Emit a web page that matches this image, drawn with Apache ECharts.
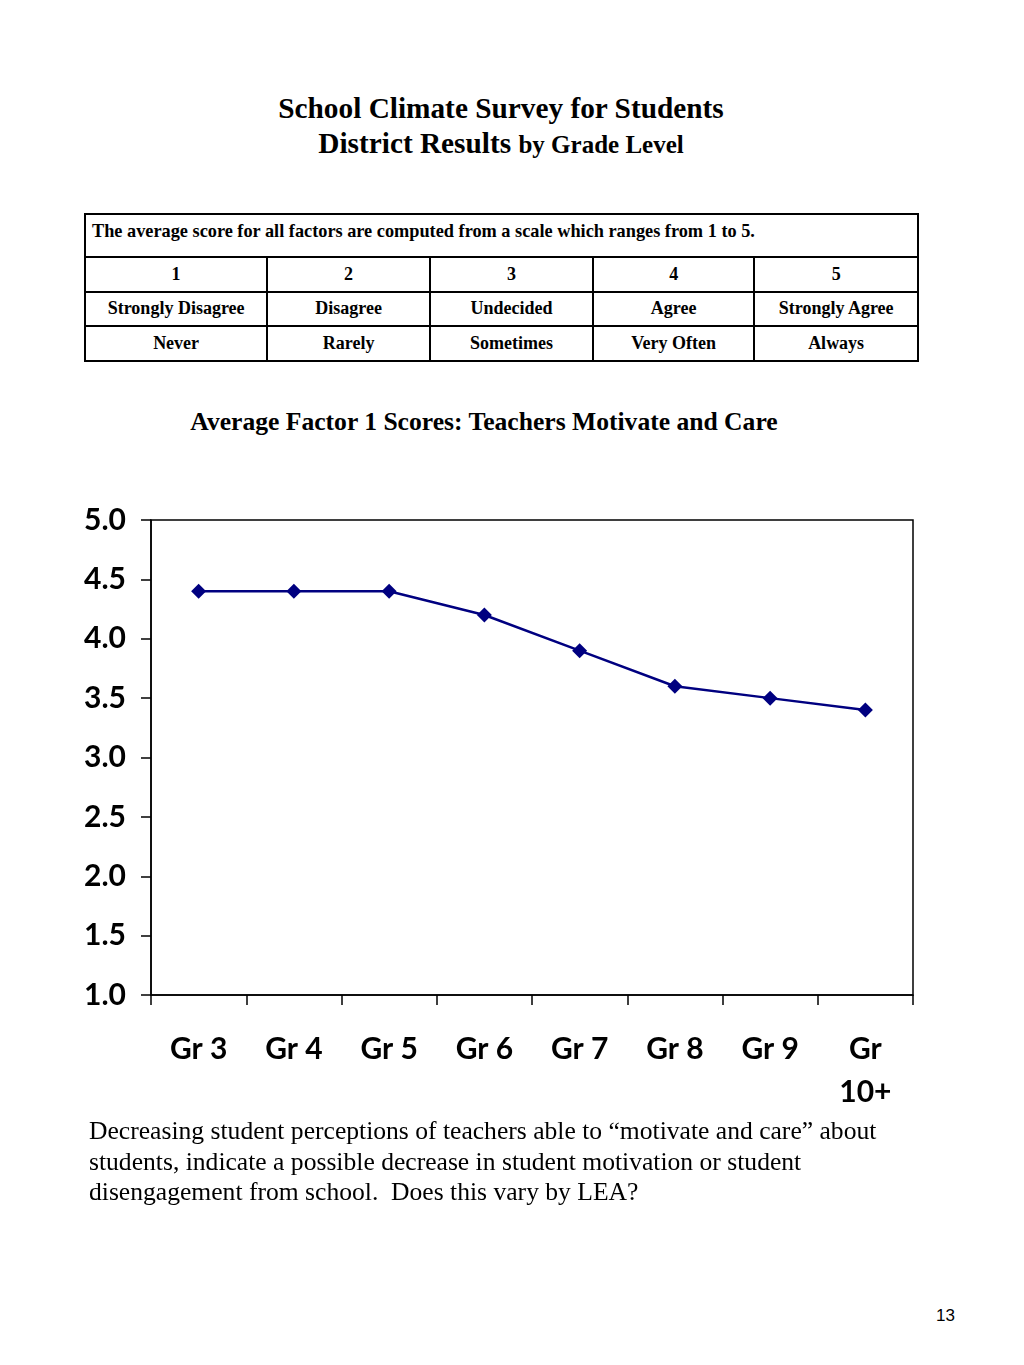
<!DOCTYPE html>
<html>
<head>
<meta charset="utf-8">
<script src="https://cdn.jsdelivr.net/npm/echarts@6/dist/echarts.min.js"></script>
<style>
  html, body { margin:0; padding:0; background:#fff; }
  body { width:1024px; height:1365px; position:relative; overflow:hidden; font-family:"Liberation Serif","DejaVu Serif",serif; color:#000; }
  .title { position:absolute; left:0; width:1002px; text-align:center; font-weight:bold; }
  #t1 { top:90px; font-size:29.3px; line-height:36px; }
  #t2 { top:125px; font-size:29.3px; line-height:36px; }
  #t2 span { font-size:25px; }
  table { position:absolute; left:84px; top:213px; width:835px; border-collapse:collapse; font-weight:bold; font-size:18px; }
  td { border:2.5px solid #000; text-align:center; padding:0; }
  td.head { text-align:left; padding-left:6px; height:43px; vertical-align:top; padding-top:6px; box-sizing:border-box; font-size:18.3px; }
  tr.r td { height:32.5px; }
  #sub { position:absolute; left:0; width:968px; top:406px; text-align:center; font-weight:bold; font-size:25.6px; line-height:32px; }
  #chart { position:absolute; left:0; top:480px; width:1024px; height:660px; }
  #para { position:absolute; left:89px; top:1116px; font-size:25.6px; line-height:30.7px; }
  #pg { position:absolute; left:936px; top:1306px; font-family:"Liberation Sans",Arial,sans-serif; font-size:17px; }
</style>
</head>
<body>
<div class="title" id="t1">School Climate Survey for Students</div>
<div class="title" id="t2">District Results <span>by Grade Level</span></div>
<table id="tbl"></table>
<div id="sub">Average Factor 1 Scores: Teachers Motivate and Care</div>
<div id="chart"></div>
<div id="para">Decreasing student perceptions of teachers able to “motivate and care” about<br>students, indicate a possible decrease in student motivation or student<br>disengagement from school.&nbsp; Does this vary by LEA?</div>
<div id="pg">13</div>
<script>
const scaleNote = "The average score for all factors are computed from a scale which ranges from 1 to 5.";
const scaleNumbers = ["1", "2", "3", "4", "5"];
const agreeLabels = ["Strongly Disagree", "Disagree", "Undecided", "Agree", "Strongly Agree"];
const freqLabels = ["Never", "Rarely", "Sometimes", "Very Often", "Always"];

const categories = ["Gr 3", "Gr 4", "Gr 5", "Gr 6", "Gr 7", "Gr 8", "Gr 9", "Gr\n10+"];
const scores = [4.4, 4.4, 4.4, 4.2, 3.9, 3.6, 3.5, 3.4];
const yTicks = { min: 1.0, max: 5.0, interval: 0.5 };

// build table
const tbl = document.getElementById('tbl');
let html = '<tr><td class="head" colspan="5">' + scaleNote + '</td></tr>';
const widths = [183, 163, 163, 162, 164];
[scaleNumbers, agreeLabels, freqLabels].forEach((row, ri) => {
  html += '<tr class="r">' + row.map((c, i) => '<td' + (ri === 0 ? ' style="width:' + widths[i] + 'px"' : '') + '>' + c + '</td>').join('') + '</tr>';
});
tbl.innerHTML = html;

const chart = echarts.init(document.getElementById('chart'));
const labelFont = { fontFamily: 'Lato, "Open Sans", sans-serif', fontWeight: 'bold', color: '#000' };
chart.setOption({
  animation: false,
  grid: { left: 151, top: 40, width: 762, height: 475, show: true, borderColor: '#000', borderWidth: 1.5, backgroundColor: '#fff' },
  xAxis: {
    type: 'category',
    data: categories,
    boundaryGap: true,
    axisLine: { lineStyle: { color: '#000', width: 1.5 } },
    axisTick: { show: true, length: 10, interval: 0, lineStyle: { color: '#000', width: 1.5 } },
    axisLabel: Object.assign({ interval: 0, fontSize: 30, lineHeight: 43, margin: 33 }, labelFont),
    splitLine: { show: false }
  },
  yAxis: {
    type: 'value',
    min: yTicks.min, max: yTicks.max, interval: yTicks.interval,
    axisLine: { show: true, lineStyle: { color: '#000', width: 1.5 } },
    axisTick: { show: true, length: 10, lineStyle: { color: '#000', width: 1.5 } },
    axisLabel: Object.assign({ fontSize: 30, margin: 25, formatter: v => v.toFixed(1) }, labelFont),
    splitLine: { show: false }
  },
  series: [{
    type: 'line',
    data: scores,
    symbol: 'diamond',
    symbolSize: 15,
    lineStyle: { color: '#000080', width: 2.5 },
    itemStyle: { color: '#000080' }
  }]
});
</script>
</body>
</html>
